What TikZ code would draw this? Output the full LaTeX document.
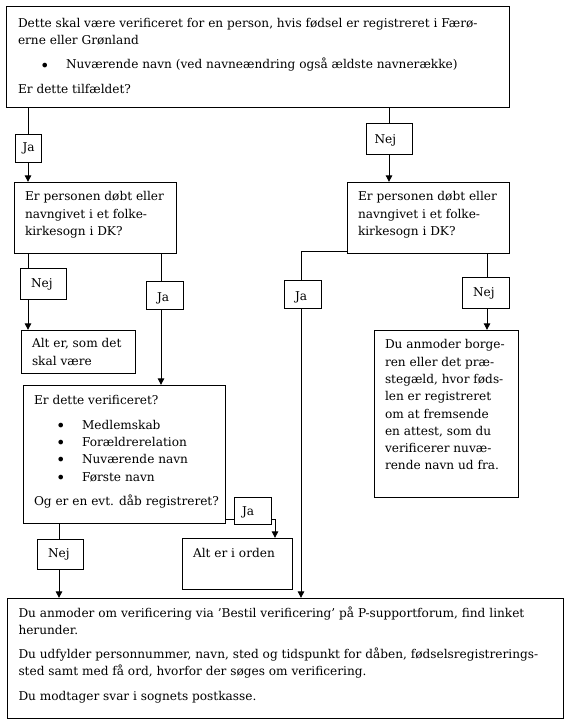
\documentclass[tikz,border=0pt]{standalone}
\usepackage{fontspec}
\setmainfont{DejaVu Serif}
\usetikzlibrary{arrows.meta}
\newdimen\px \px=0.75bp
% box text: [left pad]{width}{height}{first baseline offset}{content}
\newcommand\bxt[5][10.5]{\vbox to #3\px{\hsize=#2\px\relax
  \fontsize{9.1bp}{12.975bp}\selectfont
  \leftskip=#1\px \rightskip=0pt plus 1fil minus 500pt
  \parindent=0pt \parskip=0pt \hyphenpenalty=10000
  \vskip\dimexpr #4\px-12.11\px\relax
  \noindent\strut\parskip=7\px\relax #5\par\vfil}}
\newcommand\bul{\leavevmode\hbox to 48\px{\hskip 22\px\raisebox{-1.6bp}{\fontsize{12bp}{12bp}\selectfont\textbullet}\hfil}}
\begin{document}
\begin{tikzpicture}[x=0.75bp,y=-0.75bp,
  bx/.style={draw, line width=0.75bp, inner sep=0pt, anchor=north west},
  con/.style={line width=0.75bp},
  arr/.style={con, -{Triangle[length=5bp,width=4.8bp]}}]
\useasboundingbox (0,0) rectangle (571,725);
% boxes
\node[bx] (top) at (6,6) {\bxt[11.5]{503}{101}{20.8}{Dette skal være verificeret for en person, hvis fødsel er registreret i Færø-\newline erne eller Grønland\par \bul Nuværende navn (ved navneændring også ældste navnerække)\par Er dette tilfældet?}};
\node[bx] (ja1) at (15,134) {\bxt[7]{26}{28}{17}{Ja}};
\node[bx] (nej1) at (366,123) {\bxt[8]{46}{31}{20}{Nej}};
\node[bx] (q2) at (14,182) {\bxt{162}{71}{18.3}{Er personen døbt eller\newline navngivet i et folke-\newline kirkesogn i DK?}};
\node[bx] (q3) at (347,182) {\bxt{162}{71}{18.3}{Er personen døbt eller\newline navngivet i et folke-\newline kirkesogn i DK?}};
\node[bx] (nej2) at (20,268) {\bxt{46}{31}{19}{Nej}};
\node[bx] (alt1) at (21,330) {\bxt{114}{43}{17.3}{Alt er, som det\newline skal være}};
\node[bx] (ja2) at (146,281) {\bxt{37}{28}{19.5}{Ja}};
\node[bx] (q4) at (23,385) {\bxt{202}{138}{19.3}{Er dette verificeret?\par \bul Medlemskab\newline\bul Forældrerelation\newline\bul Nuværende navn\newline\bul Første navn\par Og er en evt. dåb registreret?}};
\node[bx] (ja3) at (234,497) {\bxt[7.5]{37}{27}{18}{Ja}};
\node[bx] (alt2) at (182,538) {\bxt{110}{51}{18.6}{Alt er i orden}};
\node[bx] (nej3) at (37,539) {\bxt{46}{30}{18}{Nej}};
\node[bx] (ja4) at (284,280) {\bxt{37}{28}{19.5}{Ja}};
\node[bx] (nej4) at (462,277) {\bxt{47}{31}{19}{Nej}};
\node[bx] (q5) at (374,330) {\bxt{144}{167}{18.3}{Du anmoder borge-\newline ren eller det præ-\newline stegæld, hvor føds-\newline len er registreret\newline om at fremsende\newline en attest, som du\newline verificerer nuvæ-\newline rende navn ud fra.}};
\node[bx] (bot) at (7,598) {\bxt[11]{556}{120}{18.5}{Du anmoder om verificering via ’Bestil verificering’ på P-supportforum, find linket\newline herunder.\par Du udfylder personnummer, navn, sted og tidspunkt for dåben, fødselsregistrerings-\newline sted samt med få ord, hvorfor der søges om verificering.\par Du modtager svar i sognets postkasse.}};
% guides
\coordinate (xJ1) at (28,0);
\coordinate (xN1) at (389,0);
\coordinate (xN2) at (28,0);
\coordinate (xJ2) at (161,0);
\coordinate (xN3) at (59,0);
\coordinate (xJ4) at (301,0);
\coordinate (xN4) at (487,0);
\coordinate (xJ3) at (275,0);
\coordinate (yJ3) at (0,519);
\coordinate (yJ4) at (0,251);
% connectors
\draw[con] (top.south -| xJ1) -- (ja1.north -| xJ1);
\draw[arr] (ja1.south -| xJ1) -- (q2.north -| xJ1);
\draw[con] (top.south -| xN1) -- (nej1.north -| xN1);
\draw[arr] (nej1.south -| xN1) -- (q3.north -| xN1);
\draw[con] (q2.south -| xN2) -- (nej2.north -| xN2);
\draw[arr] (nej2.south -| xN2) -- (alt1.north -| xN2);
\draw[con] (q2.south -| xJ2) -- (ja2.north -| xJ2);
\draw[arr] (ja2.south -| xJ2) -- (q4.north -| xJ2);
\draw[con] (q4.east |- yJ3) -- (ja3.west |- yJ3);
\draw[arr] (ja3.east |- yJ3) -| (alt2.north -| xJ3);
\draw[con] (q4.south -| xN3) -- (nej3.north -| xN3);
\draw[arr] (nej3.south -| xN3) -- (bot.north -| xN3);
\draw[con] (q3.west |- yJ4) -| (ja4.north -| xJ4);
\draw[arr] (ja4.south -| xJ4) -- (bot.north -| xJ4);
\draw[con] (q3.south -| xN4) -- (nej4.north -| xN4);
\draw[arr] (nej4.south -| xN4) -- (q5.north -| xN4);
\end{tikzpicture}
\end{document}
